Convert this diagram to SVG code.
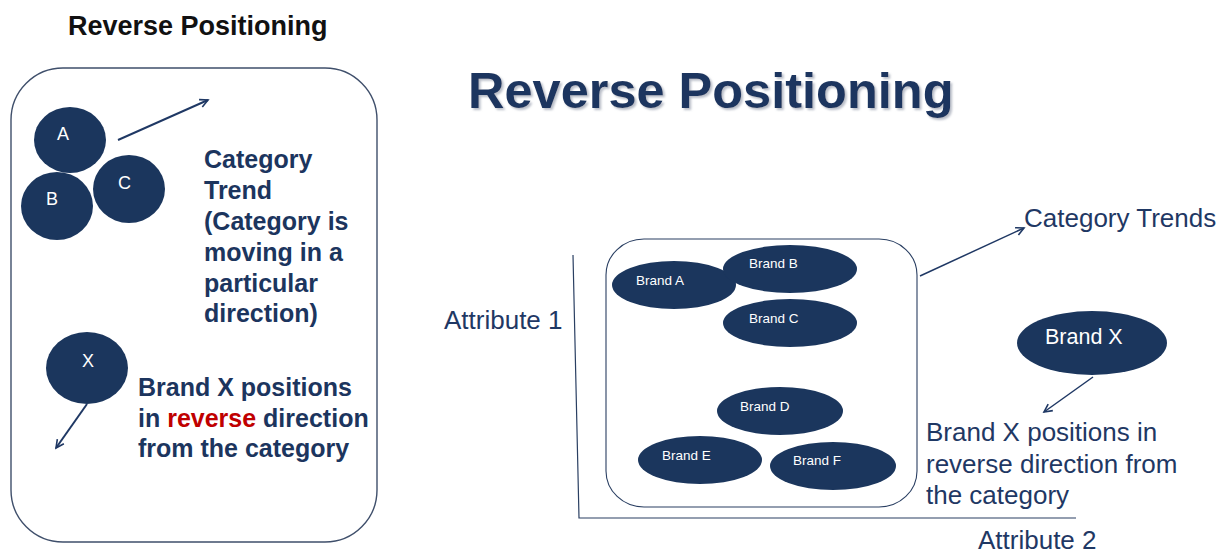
<svg xmlns="http://www.w3.org/2000/svg" width="1232" height="553" viewBox="0 0 1232 553">
  <style>
    .bg { fill: #ffffff; }
    .blob { fill: #1b365d; }
    .frame { fill: none; stroke: #3f4f6b; stroke-width: 1.4; }
    .inner { fill: none; stroke: #2a3f62; stroke-width: 1.1; }
    .axis { fill: none; stroke: #2a3f62; stroke-width: 1.2; }
    .conn { fill: none; stroke: #1f3864; stroke-width: 2; }
    .conn-thin { fill: none; stroke: #1f3864; stroke-width: 1.5; }
    .lbl { font-family: "Liberation Sans", Arial, sans-serif; fill: #ffffff; }
    .bold { font-family: "Liberation Sans", Arial, sans-serif; font-weight: bold; fill: #1c355e; }
    .reg { font-family: "Liberation Sans", Arial, sans-serif; fill: #1f3864; }
    .red { fill: #c00000; }
  </style>
  <defs>
    <marker id="head" markerWidth="12" markerHeight="12" refX="9" refY="5" orient="auto" markerUnits="userSpaceOnUse">
      <path d="M1,1 L9,5 L1,9" fill="none" stroke="#1f3864" stroke-width="1.6"/>
    </marker>
    <filter id="shadow" x="-5%" y="-20%" width="110%" height="150%">
      <feDropShadow dx="2" dy="2" stdDeviation="1.2" flood-color="#8a93a3" flood-opacity="0.6"/>
    </filter>
  </defs>

  <rect class="bg" x="0" y="0" width="1232" height="553"/>

  <!-- left panel -->
  <text id="panel-title" class="bold" x="68" y="35" font-size="27" style="fill:#111">Reverse Positioning</text>
  <rect id="panel-frame" class="frame" x="11" y="68" width="366" height="474" rx="52" ry="52"/>

  <g id="node-a">
    <ellipse class="blob" cx="70" cy="140" rx="36" ry="33"/>
    <text class="lbl" x="57" y="140" font-size="18">A</text>
  </g>
  <g id="node-b">
    <ellipse class="blob" cx="57" cy="206" rx="36" ry="34"/>
    <text class="lbl" x="46" y="205" font-size="18">B</text>
  </g>
  <g id="node-c">
    <ellipse class="blob" cx="129" cy="189" rx="36" ry="34"/>
    <text class="lbl" x="118" y="189" font-size="18">C</text>
  </g>
  <g id="node-x-left">
    <ellipse class="blob" cx="87" cy="368" rx="41" ry="36"/>
    <text class="lbl" x="82" y="367" font-size="18">X</text>
  </g>

  <g id="trend-text">
    <text class="bold" x="204" y="168" font-size="25">Category</text>
    <text class="bold" x="204" y="199" font-size="25">Trend</text>
    <text class="bold" x="204" y="230" font-size="25">(Category is</text>
    <text class="bold" x="204" y="261" font-size="25">moving in a</text>
    <text class="bold" x="204" y="292" font-size="25">particular</text>
    <text class="bold" x="204" y="322" font-size="25">direction)</text>
  </g>
  <g id="reverse-text">
    <text class="bold" x="138" y="396" font-size="25">Brand X positions</text>
    <text class="bold" x="138" y="427" font-size="25">in <tspan class="red">reverse</tspan> direction</text>
    <text class="bold" x="138" y="457" font-size="25">from the category</text>
  </g>

  <!-- right chart -->
  <text id="main-title" class="bold" x="468" y="108" font-size="50.5" filter="url(#shadow)">Reverse Positioning</text>

  <g id="axes">
    <path class="axis" d="M573,255 L579,518 L1076,518"/>
  </g>
  <text id="attr-1" class="reg" x="444" y="329" font-size="26">Attribute 1</text>
  <text id="attr-2" class="reg" x="978" y="549" font-size="26">Attribute 2</text>

  <rect id="category-box" class="inner" x="606" y="239" width="311" height="268" rx="38" ry="36"/>

  <g id="brand-a">
    <ellipse class="blob" cx="674" cy="285" rx="62" ry="24"/>
    <text class="lbl" x="636" y="285" font-size="13.5">Brand A</text>
  </g>
  <g id="brand-b">
    <ellipse class="blob" cx="790" cy="269" rx="67" ry="24"/>
    <text class="lbl" x="749" y="268" font-size="13.5">Brand B</text>
  </g>
  <g id="brand-c">
    <ellipse class="blob" cx="790" cy="323" rx="67" ry="24"/>
    <text class="lbl" x="749" y="323" font-size="13.5">Brand C</text>
  </g>
  <g id="brand-d">
    <ellipse class="blob" cx="780" cy="411" rx="63" ry="24"/>
    <text class="lbl" x="740" y="411" font-size="13.5">Brand D</text>
  </g>
  <g id="brand-e">
    <ellipse class="blob" cx="700" cy="460" rx="62" ry="24"/>
    <text class="lbl" x="662" y="460" font-size="13.5">Brand E</text>
  </g>
  <g id="brand-f">
    <ellipse class="blob" cx="833" cy="466" rx="63" ry="24"/>
    <text class="lbl" x="793" y="465" font-size="13.5">Brand F</text>
  </g>
  <g id="brand-x">
    <ellipse class="blob" cx="1092" cy="343" rx="75" ry="32"/>
    <text class="lbl" x="1045" y="344" font-size="21.5">Brand X</text>
  </g>

  <text id="trends-label" class="reg" x="1024" y="227" font-size="26">Category Trends</text>
  <g id="reverse-label">
    <text class="reg" x="926" y="441" font-size="26">Brand X positions in</text>
    <text class="reg" x="926" y="473" font-size="26">reverse direction from</text>
    <text class="reg" x="926" y="504" font-size="26">the category</text>
  </g>

  <g id="connectors">
    <line class="conn" x1="118" y1="140" x2="208" y2="100" marker-end="url(#head)"/>
    <line class="conn" x1="87" y1="404" x2="56" y2="448" marker-end="url(#head)"/>
    <line class="conn-thin" x1="920" y1="276" x2="1024" y2="228" marker-end="url(#head)"/>
    <line class="conn-thin" x1="1093" y1="377" x2="1044" y2="412" marker-end="url(#head)"/>
  </g>
</svg>
